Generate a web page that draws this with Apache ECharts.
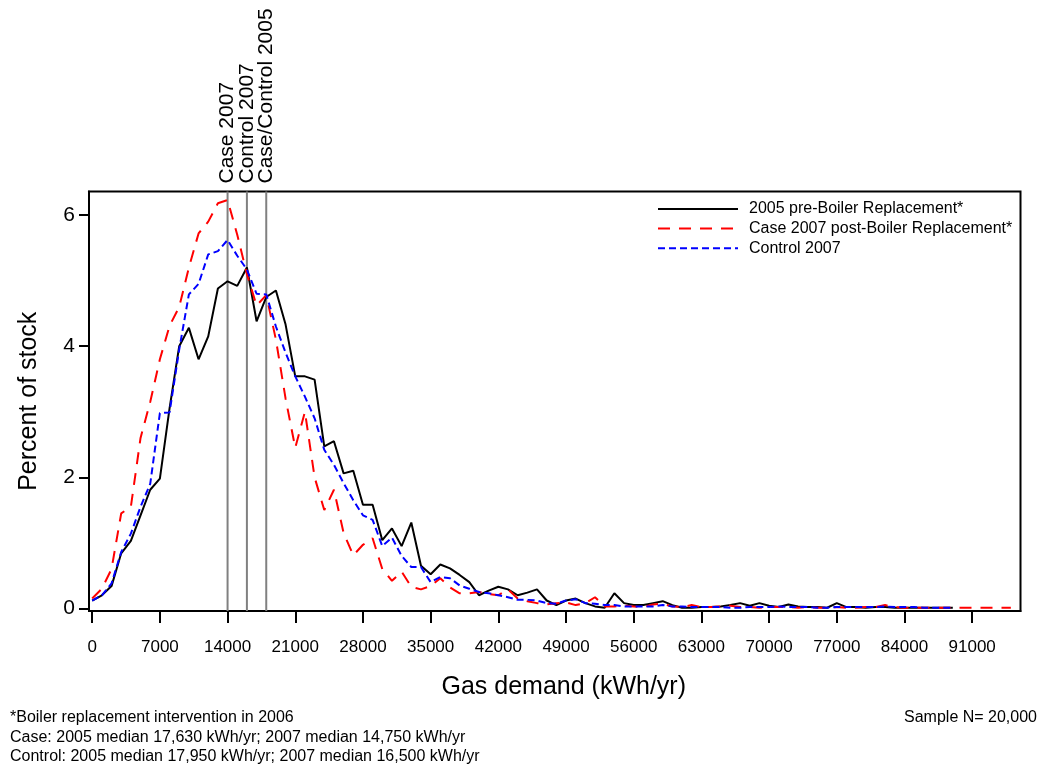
<!DOCTYPE html>
<html><head><meta charset="utf-8">
<script src="https://cdn.jsdelivr.net/npm/echarts@6/dist/echarts.min.js"></script>
<style>html,body{margin:0;padding:0;background:#fff}#c{width:1040px;height:767px}</style>
</head><body><div id="c"></div>
<script>
// Gas demand bins (kWh/yr)
const gasDemand = [0,1000,2000,3000,4000,5000,6000,7000,8000,9000,
 10000,11000,12000,13000,14000,15000,16000,17000,18000,19000,
 20000,21000,22000,23000,24000,25000,26000,27000,28000,29000,
 30000,31000,32000,33000,34000,35000,36000,37000,38000,39000,
 40000,41000,42000,43000,44000,45000,46000,47000,48000,49000,
 50000,51000,52000,53000,54000,55000,56000,57000,58000,59000,
 60000,61000,62000,63000,64000,65000,66000,67000,68000,69000,
 70000,71000,72000,73000,74000,75000,76000,77000,78000,79000,
 80000,81000,82000,83000,84000,85000,86000,87000,88000,89000,
 90000,91000,92000,93000,94000,95000];

// Percent of stock
const pre2005 = [0.12,0.2,0.34,0.84,1.03,1.42,1.81,1.98,3.05,4.0,
 4.28,3.8,4.15,4.88,4.99,4.92,5.2,4.38,4.75,4.85,
 4.33,3.54,3.54,3.49,2.47,2.55,2.06,2.10,1.58,1.58,
 1.04,1.22,0.95,1.31,0.65,0.52,0.67,0.61,0.51,0.40,
 0.20,0.27,0.33,0.29,0.20,0.24,0.29,0.12,0.05,0.12,
 0.15,0.08,0.03,0.01,0.23,0.08,0.05,0.05,0.08,0.11,
 0.05,0.01,0.01,0.02,0.02,0.03,0.05,0.08,0.04,0.08,
 0.04,0.02,0.06,0.03,0.02,0.02,0.01,0.08,0.02,0.02,
 0.01,0.02,0.02,0.01,0.01,0.01,0.01,0.01,0.01,0.01];

const case2007 = [0.15,0.3,0.6,1.45,1.55,2.6,3.15,3.8,4.31,4.6,
 5.2,5.72,5.9,6.18,6.23,5.7,5.1,4.62,4.78,4.1,
 3.2,2.45,3.0,2.0,1.5,1.81,1.15,0.81,0.97,1.07,
 0.6,0.42,0.56,0.33,0.29,0.34,0.46,0.32,0.23,0.23,
 0.25,0.22,0.2,0.29,0.15,0.11,0.08,0.06,0.08,0.09,
 0.05,0.08,0.17,0.03,0.03,0.04,0.03,0.02,0.06,0.07,
 0.03,0.02,0.05,0.02,0.02,0.03,0.04,0.02,0.02,0.01,
 0.02,0.02,0.02,0.01,0.02,0.01,0.01,0.02,0.01,0.01,
 0.02,0.02,0.05,0.02,0.01,0.01,0.01,0.01,0.01,0.01,
 0.01,0.01,0.01,0.01,0.01,0.01];

const control2007 = [0.12,0.2,0.38,0.86,1.14,1.55,1.9,2.98,2.99,3.95,
 4.79,4.95,5.4,5.45,5.62,5.38,5.17,4.8,4.79,4.3,
 3.9,3.54,3.23,2.9,2.42,2.19,1.91,1.65,1.42,1.35,
 0.95,1.08,0.8,0.63,0.63,0.4,0.48,0.46,0.35,0.3,
 0.25,0.23,0.2,0.17,0.13,0.13,0.12,0.08,0.07,0.12,
 0.14,0.08,0.07,0.05,0.05,0.03,0.03,0.03,0.03,0.05,
 0.03,0.03,0.02,0.02,0.02,0.02,0.01,0.01,0.02,0.02,
 0.02,0.03,0.02,0.02,0.02,0.01,0.01,0.02,0.02,0.02,
 0.02,0.02,0.03,0.02,0.02,0.02,0.01,0.01,0.01,0.01];

const xTicks = [0,7000,14000,21000,28000,35000,42000,49000,56000,63000,70000,77000,84000,91000];
const yTicks = [0,2,4,6];
const medianLines = [14000,16000,18000];
const medianLabels = ['Case 2007','Control 2007','Case/Control 2005'];
const seriesNames = ['2005 pre-Boiler Replacement*','Case 2007 post-Boiler Replacement*','Control 2007'];
const footnoteLines = ['*Boiler replacement intervention in 2006',
 'Case: 2005 median 17,630 kWh/yr; 2007 median 14,750 kWh/yr',
 'Control: 2005 median 17,950 kWh/yr; 2007 median 16,500 kWh/yr'];
const sampleNote = 'Sample N= 20,000';

const X_MIN = -330, X_MAX = 96000, Y_MIN = -0.04, Y_MAX = 6.36;
const FONT = '"Liberation Sans", Arial, Helvetica, sans-serif';

function pairs(vals){ return vals.map((v,i)=>[gasDemand[i], v]); }

const chart = echarts.init(document.getElementById('c'), null, {renderer:'canvas'});
chart.setOption({
  animation:false,
  backgroundColor:'#fff',
  textStyle:{fontFamily:FONT, color:'#000'},
  grid:{left:89, right:19.5, top:191.5, bottom:156, show:true, borderColor:'#000', borderWidth:2, backgroundColor:'transparent'},
  legend:{
    orient:'vertical', left:657, top:201, padding:0,
    itemWidth:80, itemHeight:16, itemGap:3.6,
    data:seriesNames,
    itemStyle:{color:'transparent', borderColor:'transparent', borderWidth:0, opacity:0},
    textStyle:{fontSize:16, color:'#000', fontFamily:FONT, padding:[0,0,0,6]}
  },
  xAxis:{
    type:'value', min:X_MIN, max:X_MAX,
    axisLine:{show:true, onZero:false, lineStyle:{color:'#000', width:2}},
    axisTick:{show:true, length:12, lineStyle:{color:'#000', width:2}, customValues:xTicks},
    axisLabel:{customValues:xTicks, fontSize:17, color:'#000', margin:28, fontFamily:FONT,
      formatter:function(v){ return String(v); }},
    splitLine:{show:false},
    name:'Gas demand (kWh/yr)', nameLocation:'middle', nameGap:64,
    nameTextStyle:{fontSize:25, color:'#000', fontFamily:FONT, padding:[0,0,0,18]}
  },
  yAxis:{
    type:'value', min:Y_MIN, max:Y_MAX,
    axisLine:{show:true, onZero:false, lineStyle:{color:'#000', width:2}},
    axisTick:{show:true, length:10, lineStyle:{color:'#000', width:2}, customValues:yTicks},
    axisLabel:{customValues:yTicks, fontSize:21, color:'#000', margin:14, fontFamily:FONT,
      formatter:function(v){ return String(v); }},
    splitLine:{show:false},
    name:'Percent of stock', nameLocation:'middle', nameGap:47,
    nameTextStyle:{fontSize:25, color:'#000', fontFamily:FONT}
  },
  graphic:[
    {type:'text', left:10, top:708, style:{text:footnoteLines.join('\n'), font:'16px '+FONT, fill:'#000', lineHeight:19.5}},
    {type:'text', right:3, top:708, style:{text:sampleNote, font:'16px '+FONT, fill:'#000', lineHeight:19.5}}
  ],
  series:[
    {
      type:'custom', name:'medians', silent:true, clip:false, z:1,
      data: medianLines.map((x,i)=>[x,i]),
      renderItem:function(params, api){
        const x = api.value(0);
        const top = api.coord([x, Y_MAX]);
        const bot = api.coord([x, Y_MIN]);
        const label = medianLabels[api.value(1)];
        return {type:'group', children:[
          {type:'line', shape:{x1:top[0], y1:top[1], x2:bot[0], y2:bot[1]}, style:{stroke:'#808080', lineWidth:2}},
          {type:'text', x:top[0], y:top[1]-8, rotation:Math.PI/2,
           style:{text:label, fill:'#000', font:'21px '+FONT, align:'left', verticalAlign:'middle'}}
        ]};
      }
    },
    {type:'line', name:seriesNames[0], data:pairs(pre2005), symbol:'none', showSymbol:false, z:3,
     lineStyle:{color:'#000', width:2, type:'solid'}, itemStyle:{color:'#000'}},
    {type:'line', name:seriesNames[1], data:pairs(case2007), symbol:'none', showSymbol:false, z:4,
     lineStyle:{color:'#ff0000', width:2, type:[12,9]}, itemStyle:{color:'#ff0000'}},
    {type:'line', name:seriesNames[2], data:pairs(control2007), symbol:'none', showSymbol:false, z:5,
     lineStyle:{color:'#0000ff', width:2, type:[7,4]}, itemStyle:{color:'#0000ff'}}
  ]
});
</script>
</body></html>
